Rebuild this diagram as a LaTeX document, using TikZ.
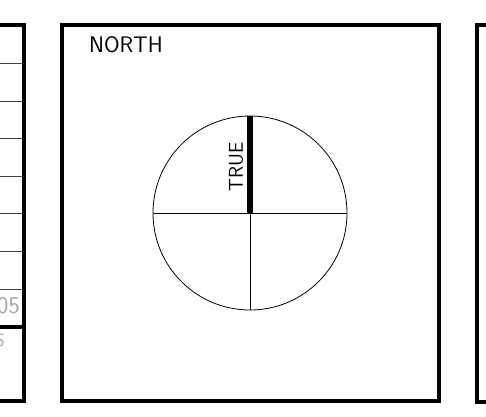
\documentclass[tikz,border=0pt]{standalone}
\usepackage{tikz}

\begin{document}
\begin{tikzpicture}[x=1pt,y=-1pt]
    \useasboundingbox (0,0) rectangle (486,416);
    \clip (0,0) rectangle (486,416);
    % left sheet
    \foreach \y in {63,101,138,176,213,251,289}
      \draw[black!75,line width=0.8pt] (-10,\y) -- (24,\y);
    \draw[line width=4.5pt] (24,327) -- (-10,327);
    \draw[line width=4.5pt] (-10,25) -- (24,25) -- (24,401) -- (-10,401);
    \node[anchor=east,text=black!35,font=\sffamily\fontsize{24}{24}\selectfont,inner sep=0pt] (year) at (20,306) {05};
    \node[anchor=east,text=black!35,font=\sffamily\fontsize{18}{18}\selectfont,inner sep=0pt] (side) at (5,340) {S};
    % middle sheet
    \draw[line width=4.5pt] (62,25) rectangle (439,401);
    \node[anchor=west,font=\sffamily\fontsize{22.5}{22.5}\selectfont,inner sep=0pt] (north) at (89,45) {NORTH};
    \draw[line width=0.8pt] (250,213) circle (97);
    \draw[line width=0.8pt] (153,213) -- (347,213);
    \draw[line width=0.8pt] (250,213) -- (250,310);
    \draw[line width=6pt] (250,116) -- (250,213);
    \node[rotate=90,font=\sffamily\fontsize{20}{20}\selectfont,inner sep=0pt] (true) at (236,167) {TRUE};
    % right sheet
    \draw[line width=4.5pt] (500,25) -- (477,25) -- (477,402) -- (500,402);
  \end{tikzpicture}
\end{document}
